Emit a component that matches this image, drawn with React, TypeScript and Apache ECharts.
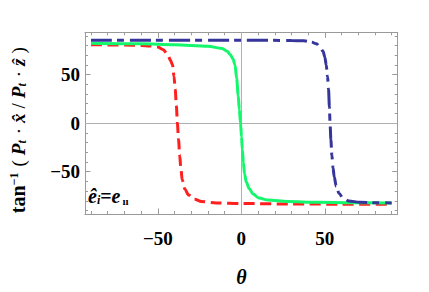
import React, { useEffect, useRef } from "react";
import * as echarts from "echarts";

const redSeries: [number, number][] = [
  [-90, 80.8], [-70, 80.5], [-60, 80], [-55, 79.5], [-50, 78.5], [-47, 76], [-44, 70.8],
  [-42.5, 65], [-41.2, 60], [-40.3, 48], [-39.6, 35], [-38.9, 18], [-38.3, 0], [-37.6, -17],
  [-36.9, -33.4], [-36.2, -47], [-35.4, -58.4], [-33.8, -68], [-31.6, -74], [-28, -78.5],
  [-23.9, -80.8], [-15, -82.2], [0, -82.8], [30, -83.3], [60, -83.5], [90, -83.6],
];

const greenSeries: [number, number][] = [
  [-90, 82.4], [-60, 81.8], [-40, 80.8], [-20, 79.2], [-11.5, 77], [-8.5, 74], [-6.7, 70.8],
  [-5, 66], [-3.8, 60], [-2.8, 46], [-1.9, 28.8], [-1.2, 14], [-0.5, 0], [0.1, -14],
  [0.6, -27.3], [1.2, -40], [1.9, -52.1], [3, -61], [4.8, -67.7], [7, -73], [10.5, -77.1],
  [16, -79.3], [27.8, -80.8], [45, -81.6], [66, -82], [90, -82.2],
];

const blueSeries: [number, number][] = [
  [-90, 85.5], [0, 85.5], [30, 85.2], [37.4, 84.8], [42, 83.5], [45, 81.7], [47, 78.5],
  [48.9, 74], [50, 68], [50.8, 60], [51.6, 48], [52.2, 35], [52.7, 17], [53.1, 0],
  [53.6, -17], [54.2, -33.4], [54.9, -46], [55.6, -55.3], [56.8, -65], [58.5, -72.4],
  [61, -77.5], [64.3, -80.2], [70.9, -81.5], [80, -82], [90, -82.2],
];

const minorTicks = [-90, -80, -70, -60, -50, -40, -30, -20, -10, 0, 10, 20, 30, 40, 50, 60, 70, 80, 90];
const majorTicks = [-50, 0, 50];

const AX_MIN = -93.6;
const AX_MAX = 93.6;
const FRAME = "#9a9a9a";
const SERIF = "'Liberation Serif', 'DejaVu Serif', serif";

const fmt = (v: number) => (v < 0 ? "\u2212" + Math.abs(v) : String(v));

function makeAxis(pos: string, ticks: number[], len: number, withLine: boolean, extra: any = {}) {
  return {
    type: "value",
    position: pos,
    min: AX_MIN,
    max: AX_MAX,
    splitLine: { show: false },
    axisLine: { show: withLine, onZero: false, lineStyle: { color: FRAME, width: 1 } },
    axisTick: { show: true, inside: true, length: len, customValues: ticks, lineStyle: { color: FRAME, width: 1 } },
    axisLabel: { show: false },
    ...extra,
  };
}

const labelStyle = (margin: number) => ({
  show: true,
  customValues: majorTicks,
  formatter: fmt,
  fontFamily: SERIF,
  fontWeight: "bold",
  fontSize: 19,
  color: "#000",
  margin,
});

export default function App() {
  const ref = useRef<HTMLDivElement>(null);
  useEffect(() => {
    if (!ref.current) return;
    const chart = echarts.init(ref.current, undefined, { renderer: "svg" });
    chart.setOption({
      animation: false,
      backgroundColor: "#fff",
      grid: { left: 72, right: 31.3, top: 32.3, bottom: 59.3 },
      xAxis: [
        makeAxis("bottom", minorTicks, 3, true, {
          name: "θ",
          nameLocation: "middle",
          nameGap: 53,
          nameTextStyle: { fontFamily: SERIF, fontStyle: "italic", fontWeight: "bold", fontSize: 20, color: "#000" },
          axisLabel: labelStyle(15),
        }),
        makeAxis("bottom", majorTicks, 5.5, false),
        makeAxis("top", minorTicks, 3, true),
        makeAxis("top", majorTicks, 5.5, false),
      ],
      yAxis: [
        makeAxis("left", minorTicks, 3, true, {
          name: "{b|tan}{sup|\u22121}{n|(}{i|P}{sub|t}{n|·}{i|x\u0302}{n|/}{i|P}{sub|t}{n|·}{i|\u1e91}{n|)}",
          nameLocation: "middle",
          nameRotate: 90,
          nameGap: 57,
          nameTextStyle: {
            color: "#000",
            padding: [0, 9, 0, 0],
            rich: {
              b: { fontFamily: SERIF, fontWeight: "bold", fontSize: 20, color: "#000" },
              sup: { fontFamily: SERIF, fontWeight: "bold", fontSize: 12, verticalAlign: "top", color: "#000", padding: [0, 1, 7, 0] },
              n: { fontFamily: SERIF, fontSize: 19, color: "#000", padding: [0, 5, 0, 5] },
              i: { fontFamily: SERIF, fontStyle: "italic", fontWeight: "bold", fontSize: 19, color: "#000" },
              sub: { fontFamily: SERIF, fontStyle: "italic", fontWeight: "bold", fontSize: 12, verticalAlign: "bottom", color: "#000", padding: [7, 1, 0, 0] },
            },
          },
          axisLabel: labelStyle(5),
        }),
        makeAxis("left", majorTicks, 5.5, false),
        makeAxis("right", minorTicks, 3, true),
        makeAxis("right", majorTicks, 5.5, false),
      ],
      graphic: [
        {
          type: "text",
          left: 88,
          top: 186,
          z: 10,
          style: {
            text: "{i|ê}{sub|i}{n|=}{i|e}{sub2|ıı}",
            rich: {
              i: { fontFamily: SERIF, fontStyle: "italic", fontWeight: "bold", fontSize: 20, fill: "#000" },
              n: { fontFamily: SERIF, fontWeight: "bold", fontSize: 20, fill: "#000" },
              sub: { fontFamily: SERIF, fontStyle: "italic", fontWeight: "bold", fontSize: 12, fill: "#000", verticalAlign: "bottom", padding: [7, 0, 0, 0] },
              sub2: { fontFamily: SERIF, fontWeight: "bold", fontSize: 11, fill: "#000", verticalAlign: "bottom", padding: [7, 0, 0, 2] },
            },
          },
        },
      ],
      series: [
        {
          type: "line",
          xAxisIndex: 0,
          yAxisIndex: 0,
          data: [],
          z: 1,
          silent: true,
          markLine: {
            silent: true,
            z: 1,
            symbol: ["none", "none"],
            label: { show: false },
            lineStyle: { color: "#b0b0b0", type: "solid", width: 1 },
            data: [{ xAxis: 0 }, { yAxis: 0 }],
          },
        },
        {
          type: "line",
          data: redSeries,
          showSymbol: false,
          smooth: 0.3,
          smoothMonotone: "x",
          z: 3,
          lineStyle: { color: "#ff1f1f", width: 3, type: [11, 5.5], cap: "butt" },
        },
        {
          type: "line",
          data: greenSeries,
          showSymbol: false,
          smooth: 0.3,
          smoothMonotone: "x",
          z: 4,
          lineStyle: { color: "#12f76c", width: 3, type: "solid" },
        },
        {
          type: "line",
          data: blueSeries,
          showSymbol: false,
          smooth: 0.3,
          smoothMonotone: "x",
          z: 5,
          lineStyle: { color: "#35359b", width: 3, type: [21, 5, 7, 6], cap: "butt" },
        },
      ],
    });
    return () => chart.dispose();
  }, []);
  return <div ref={ref} style={{ width: 429, height: 292, position: "absolute", left: 0, top: 0 }} />;
}
